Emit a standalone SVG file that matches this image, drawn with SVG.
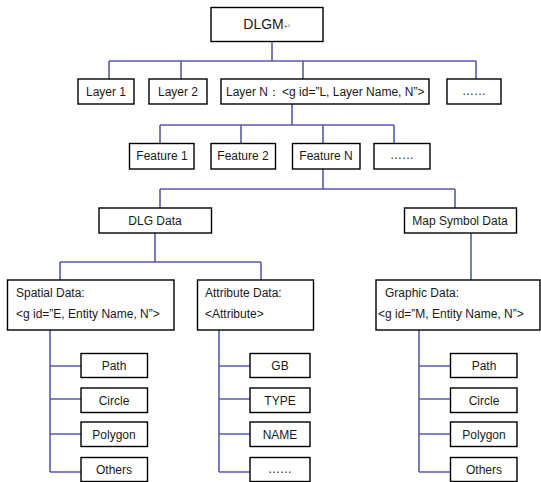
<svg xmlns="http://www.w3.org/2000/svg" width="541" height="482" viewBox="0 0 541 482">
<style>
.b{fill:#fff;stroke:#000;stroke-width:1.4}
.t{font-family:"Liberation Sans",Arial,sans-serif;font-size:12px;fill:#1a1a1a;text-anchor:middle}
.l{text-anchor:start}
.c{fill:none;stroke:#5a5ab0;stroke-width:1.6}
</style>
<rect width="541" height="482" fill="#fff"/>
<g id="connectors">
<path class="c" d="M272,42V61M109,61H476M109,61V79M181,61V79M303,61V79M476,61V79"/>
<path class="c" d="M292,104V125M160,125H394M160,125V143M241,125V143M323,125V143M394,125V143"/>
<path class="c" d="M323,169V189M160,189H455M160,189V208M455,189V208"/>
<path class="c" d="M155,233V262M60,262H261M60,262V280M261,262V280"/>
<path class="c" d="M471,233V280"/>
<path class="c" d="M50,330V472M50,366H81M50,399H81M50,434H81M50,472H81"/>
<path class="c" d="M219,330V472M219,366H250M219,399H250M219,434H250M219,472H250"/>
<path class="c" d="M419,330V472M419,366H450M419,399H450M419,434H450M419,472H450"/>
</g>
<g id="dlgm"><rect class="b" x="211" y="7.5" width="112" height="34"/><text class="t" x="267" y="29" style="font-size:14px">DLGM<tspan style="font-size:8px;fill:#888">↵</tspan></text></g>
<g id="layer1"><rect class="b" x="78" y="79" width="56" height="25"/><text class="t" x="106" y="96">Layer 1</text></g>
<g id="layer2"><rect class="b" x="149" y="79" width="58" height="25"/><text class="t" x="178" y="96">Layer 2</text></g>
<g id="layerN"><rect class="b" x="221" y="79" width="208" height="25"/><text class="t l" x="226" y="96">Layer N：<tspan dx="2">&lt;g id=”L, Layer Name, N”&gt;</tspan></text></g>
<g id="layerMore"><rect class="b" x="447" y="79" width="54" height="25"/><text class="t" x="474" y="95">……</text></g>
<g id="feature1"><rect class="b" x="129.5" y="143.5" width="64.5" height="25.5"/><text class="t" x="162" y="160">Feature 1</text></g>
<g id="feature2"><rect class="b" x="211" y="143.5" width="64.5" height="25.5"/><text class="t" x="243" y="160">Feature 2</text></g>
<g id="featureN"><rect class="b" x="292.5" y="143.5" width="67.5" height="25.5"/><text class="t" x="326" y="160">Feature N</text></g>
<g id="featureMore"><rect class="b" x="374" y="143.5" width="56" height="25.5"/><text class="t" x="402" y="159">……</text></g>
<g id="dlgData"><rect class="b" x="99" y="208" width="112.5" height="25"/><text class="t" x="155" y="225">DLG Data</text></g>
<g id="mapSymbol"><rect class="b" x="404.5" y="208" width="112" height="25"/><text class="t" x="460" y="225">Map Symbol Data</text></g>
<g id="spatial"><rect class="b" x="7.5" y="280" width="166.5" height="50"/><text class="t l" x="16" y="297">Spatial Data:</text><text class="t l" x="16" y="318">&lt;g id=”E, Entity Name, N”&gt;</text></g>
<g id="attribute"><rect class="b" x="197.5" y="280" width="116" height="50"/><text class="t l" x="205" y="297">Attribute Data:</text><text class="t l" x="205" y="318">&lt;Attribute&gt;</text></g>
<g id="graphic"><rect class="b" x="376" y="280" width="164" height="50"/><text class="t l" x="385" y="297">Graphic Data:</text><text class="t l" x="378" y="318">&lt;g id=”M, Entity Name, N”&gt;</text></g>
<g id="sPath"><rect class="b" x="81" y="353.5" width="66.5" height="24"/><text class="t" x="114" y="370">Path</text></g>
<g id="sCircle"><rect class="b" x="81" y="388" width="66.5" height="24.5"/><text class="t" x="114" y="405">Circle</text></g>
<g id="sPolygon"><rect class="b" x="81" y="422" width="66.5" height="24.5"/><text class="t" x="114" y="439">Polygon</text></g>
<g id="sOthers"><rect class="b" x="81" y="457.5" width="66.5" height="24"/><text class="t" x="114" y="474">Others</text></g>
<g id="aGB"><rect class="b" x="250" y="353.5" width="60" height="24"/><text class="t" x="280" y="370">GB</text></g>
<g id="aType"><rect class="b" x="250" y="388" width="60" height="24.5"/><text class="t" x="280" y="405">TYPE</text></g>
<g id="aName"><rect class="b" x="250" y="422" width="60" height="24.5"/><text class="t" x="280" y="439">NAME</text></g>
<g id="aMore"><rect class="b" x="250" y="457.5" width="60" height="24"/><text class="t" x="280" y="473">……</text></g>
<g id="gPath"><rect class="b" x="450.5" y="353.5" width="66.5" height="24"/><text class="t" x="484" y="370">Path</text></g>
<g id="gCircle"><rect class="b" x="450.5" y="388" width="66.5" height="24.5"/><text class="t" x="484" y="405">Circle</text></g>
<g id="gPolygon"><rect class="b" x="450.5" y="422" width="66.5" height="24.5"/><text class="t" x="484" y="439">Polygon</text></g>
<g id="gOthers"><rect class="b" x="450.5" y="457.5" width="66.5" height="24"/><text class="t" x="484" y="474">Others</text></g>
</svg>
